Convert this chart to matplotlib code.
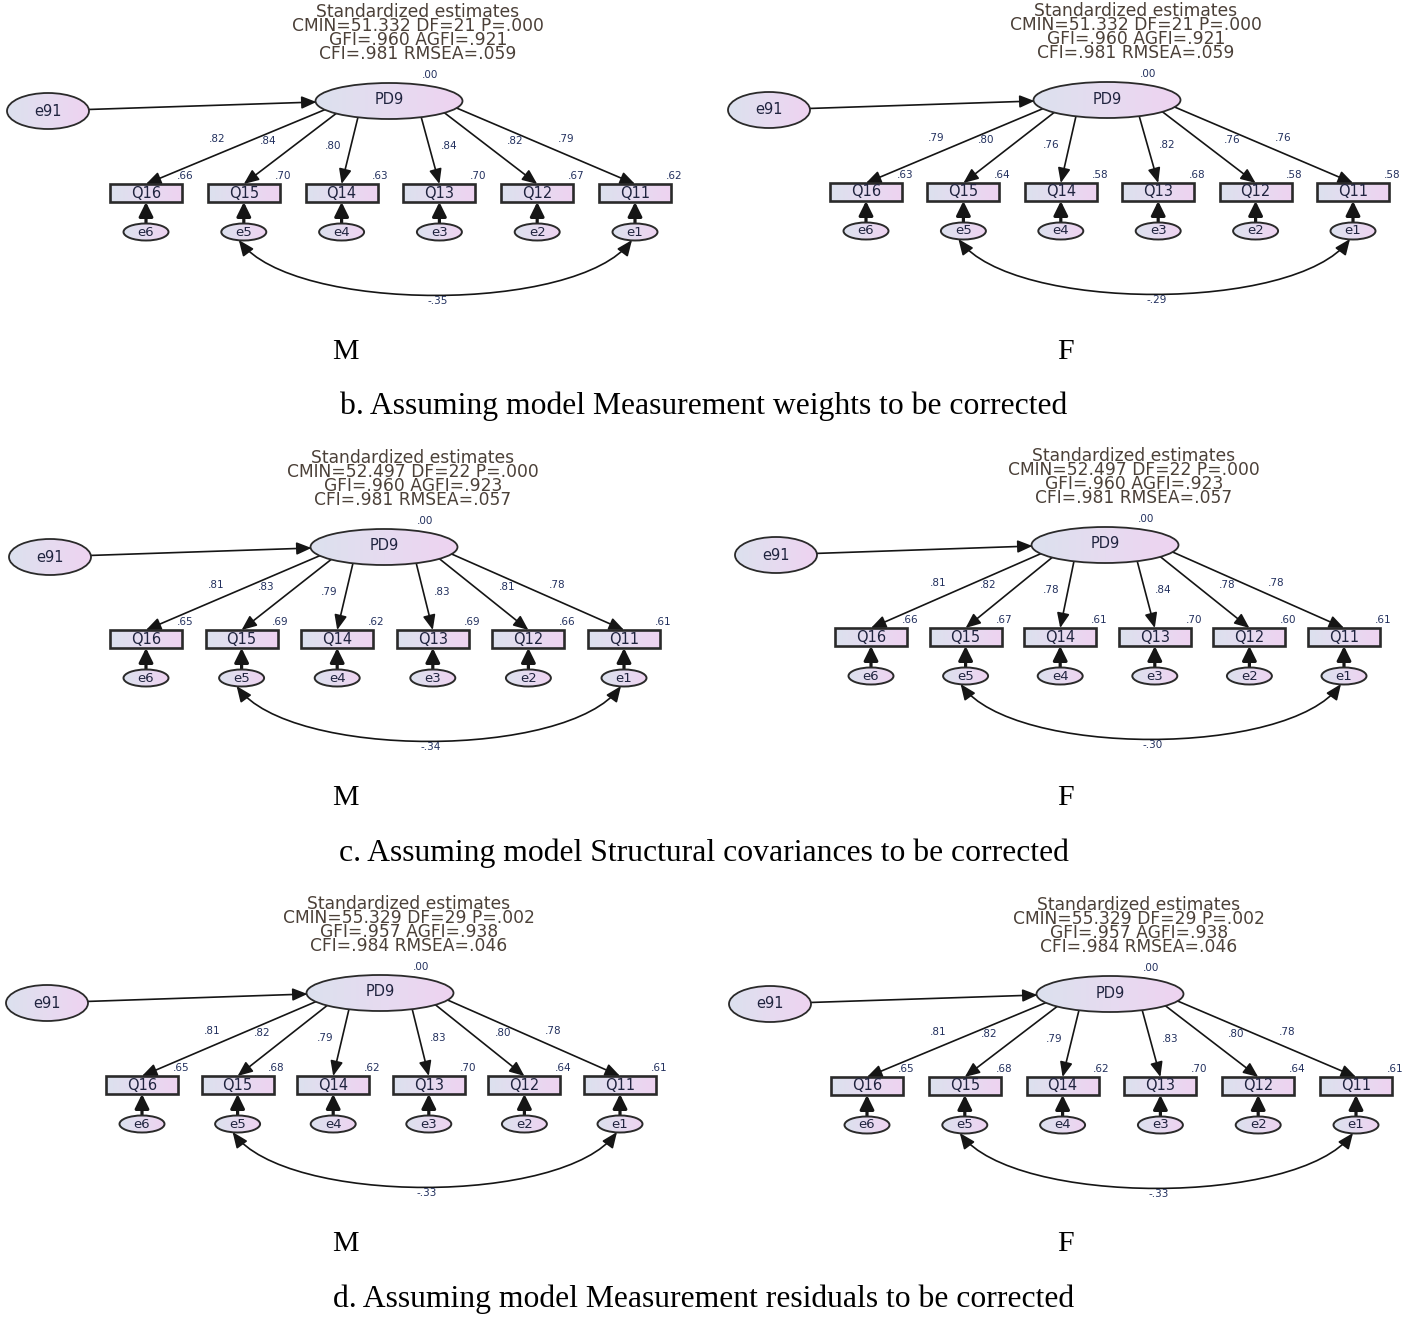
import numpy as np
import matplotlib
matplotlib.use("Agg")
import matplotlib.pyplot as plt
from matplotlib.patches import Ellipse, Rectangle, FancyArrowPatch
from matplotlib.path import Path
from matplotlib.colors import LinearSegmentedColormap

# ---------------- data ----------------
indicators = ["Q16", "Q15", "Q14", "Q13", "Q12", "Q11"]
errors = ["e6", "e5", "e4", "e3", "e2", "e1"]
latent = "PD9"
disturbance = "e91"
latent_r2 = 0.00
groups = ["M", "F"]
panel_ids = ["b", "c", "d"]
captions = ["b. Assuming model Measurement weights to be corrected",
            "c. Assuming model Structural covariances to be corrected",
            "d. Assuming model Measurement residuals to be corrected"]

cmin = ["51.332", "52.497", "55.329"]
df_vals = ["21", "22", "29"]
p_vals = [".000", ".000", ".002"]
gfi = [".960", ".960", ".957"]
agfi = [".921", ".923", ".938"]
cfi = [".981", ".981", ".984"]
rmsea = [".059", ".057", ".046"]

loadings_b_M = [0.82, 0.84, 0.80, 0.84, 0.82, 0.79]
r2_b_M = [0.66, 0.70, 0.63, 0.70, 0.67, 0.62]
cov_b_M = -0.35
loadings_b_F = [0.79, 0.80, 0.76, 0.82, 0.76, 0.76]
r2_b_F = [0.63, 0.64, 0.58, 0.68, 0.58, 0.58]
cov_b_F = -0.29

loadings_c_M = [0.81, 0.83, 0.79, 0.83, 0.81, 0.78]
r2_c_M = [0.65, 0.69, 0.62, 0.69, 0.66, 0.61]
cov_c_M = -0.34
loadings_c_F = [0.81, 0.82, 0.78, 0.84, 0.78, 0.78]
r2_c_F = [0.66, 0.67, 0.61, 0.70, 0.60, 0.61]
cov_c_F = -0.30

loadings_d_M = [0.81, 0.82, 0.79, 0.83, 0.80, 0.78]
r2_d_M = [0.65, 0.68, 0.62, 0.70, 0.64, 0.61]
cov_d_M = -0.33
loadings_d_F = [0.81, 0.82, 0.79, 0.83, 0.80, 0.78]
r2_d_F = [0.65, 0.68, 0.62, 0.70, 0.64, 0.61]
cov_d_F = -0.33

estimates = {
    ("b", "M"): (loadings_b_M, r2_b_M, cov_b_M),
    ("b", "F"): (loadings_b_F, r2_b_F, cov_b_F),
    ("c", "M"): (loadings_c_M, r2_c_M, cov_c_M),
    ("c", "F"): (loadings_c_F, r2_c_F, cov_c_F),
    ("d", "M"): (loadings_d_M, r2_d_M, cov_d_M),
    ("d", "F"): (loadings_d_F, r2_d_F, cov_d_F),
}

# ---------------- layout (pixel space) ----------------
geo = {
    ("b", "M"): dict(pd9=(389, 101), e91x=48, x0=146, dx=97.8),
    ("b", "F"): dict(pd9=(1107, 100), e91x=769, x0=866, dx=97.4),
    ("c", "M"): dict(pd9=(384, 547), e91x=50, x0=146, dx=95.6),
    ("c", "F"): dict(pd9=(1105, 545), e91x=776, x0=871, dx=94.6),
    ("d", "M"): dict(pd9=(380, 993), e91x=47, x0=142, dx=95.6),
    ("d", "F"): dict(pd9=(1110, 994), e91x=770, x0=867, dx=97.8),
}
group_label_x = {"M": 345, "F": 1065}
group_label_y = [352, 798, 1244]
caption_y = [406, 853, 1299]
start_angles = [151, 136, 115, 64, 41, 23]   # where loading arrows leave PD9
label_off = [(-172, 38), (-121, 40), (-56, 45), (60, 45), (126, 40), (177, 38)]

W, H = 1414, 1317
fig = plt.figure(figsize=(W / 100, H / 100), dpi=100)
ax = fig.add_axes([0, 0, 1, 1])
ax.set_xlim(0, W)
ax.set_ylim(H, 0)
ax.axis("off")

grad_cmap = LinearSegmentedColormap.from_list("amos", ["#dce1ee", "#e6dbf0", "#eed3f1"])
grad_img = np.tile(np.linspace(0, 1, 64), (8, 1))

TITLE_C = "#4b4038"
NUM_C = "#22305e"
NODE_C = "#20243f"
LINE_C = "#151515"
EDGE_C = "#2a2a2a"


def fmt(v):
    s = f"{abs(v):.2f}"[1:]
    return ("-" if v < 0 else "") + s


def shaded(patch, z=3):
    ax.add_patch(patch)
    if isinstance(patch, Ellipse):
        cx, cy = patch.center
        x0, x1 = cx - patch.width / 2, cx + patch.width / 2
        y0, y1 = cy - patch.height / 2, cy + patch.height / 2
    else:
        x0, y0 = patch.get_xy()
        x1, y1 = x0 + patch.get_width(), y0 + patch.get_height()
    im = ax.imshow(grad_img, cmap=grad_cmap, extent=(x0, x1, y1, y0),
                   aspect="auto", interpolation="bilinear", zorder=z - 0.5)
    im.set_clip_path(patch)


def ell_pt(cx, cy, a, b, tx, ty):
    dx, dy = tx - cx, ty - cy
    t = 1.0 / np.sqrt((dx / a) ** 2 + (dy / b) ** 2)
    return cx + t * dx, cy + t * dy


def arrow(p0, p1, lw=1.2, hl=0.9, hw=0.38, ms=10):
    ax.add_patch(FancyArrowPatch(p0, p1,
                                 arrowstyle=f"-|>,head_length={hl},head_width={hw}",
                                 mutation_scale=ms, lw=lw, color=LINE_C,
                                 shrinkA=0, shrinkB=0, zorder=2))


for pi, pid in enumerate(panel_ids):
    for g in groups:
        G = geo[(pid, g)]
        lo, r2, cv = estimates[(pid, g)]
        px, py = G["pd9"]
        a, b = 73.5, 18
        bx = [G["x0"] + i * G["dx"] for i in range(6)]
        by = py + 92
        ey = py + 131
        bw, bh = 72, 18
        ew, eh = 45, 17

        # header
        ax.text(px + 29, py - 68,
                "Standardized estimates\n"
                f"CMIN={cmin[pi]} DF={df_vals[pi]} P={p_vals[pi]}\n"
                f"GFI={gfi[pi]} AGFI={agfi[pi]}\n"
                f"CFI={cfi[pi]} RMSEA={rmsea[pi]}",
                ha="center", va="center", multialignment="center",
                fontsize=12.3, linespacing=0.71, color=TITLE_C,
                family="DejaVu Sans")

        # latent
        shaded(Ellipse((px, py), 2 * a, 2 * b, facecolor="none",
                       edgecolor=EDGE_C, lw=1.3, zorder=3))
        ax.text(px, py - 1, latent, ha="center", va="center", fontsize=10.5,
                color=NODE_C, zorder=5)
        ax.text(px + 41, py - 26, fmt(latent_r2), ha="center", va="center",
                fontsize=7.5, color=NUM_C)

        # disturbance e91
        exc, eyc = G["e91x"], py + 10
        shaded(Ellipse((exc, eyc), 82, 36, facecolor="none",
                       edgecolor=EDGE_C, lw=1.3, zorder=3))
        ax.text(exc, eyc, disturbance, ha="center", va="center", fontsize=10.5,
                color=NODE_C, zorder=5)
        s = ell_pt(exc, eyc, 41, 18, px - a, py)
        arrow(s, (px - a + 1, py + 1))

        sx = G["dx"] / 97.8
        for i in range(6):
            # loading arrow
            tgt = (bx[i], by - bh / 2)
            th = np.deg2rad(start_angles[i])
            st = (px + a * np.cos(th), py + b * np.sin(th))
            arrow(st, tgt)
            ox, oy = label_off[i]
            ax.text(px + ox * sx, py + oy, fmt(lo[i]), ha="center", va="center",
                    fontsize=7.5, color=NUM_C)
            # indicator box
            shaded(Rectangle((bx[i] - bw / 2, by - bh / 2), bw, bh,
                             facecolor="none", edgecolor=EDGE_C, lw=1.9, zorder=3))
            ax.text(bx[i], by, indicators[i], ha="center", va="center",
                    fontsize=10.5, color=NODE_C, zorder=5)
            ax.text(bx[i] + 39, by - 17, fmt(r2[i]), ha="center", va="center",
                    fontsize=7.5, color=NUM_C)
            # error
            shaded(Ellipse((bx[i], ey), ew, eh, facecolor="none",
                           edgecolor=EDGE_C, lw=1.4, zorder=3))
            ax.text(bx[i], ey, errors[i], ha="center", va="center",
                    fontsize=9.5, color=NODE_C, zorder=5)
            arrow((bx[i], ey - eh / 2), (bx[i], by + bh / 2), lw=2.3,
                  hl=0.85, hw=0.42)

        # covariance e5 <-> e1
        P0 = (bx[1] - 5, ey + 8)
        P3 = (bx[5] - 3, ey + 8)
        d = P3[0] - P0[0]
        k = (ey + 63 - P0[1]) / 0.75
        path = Path([P0, (P0[0] + 0.14 * d, P0[1] + k),
                     (P3[0] - 0.14 * d, P3[1] + k), P3],
                    [Path.MOVETO, Path.CURVE4, Path.CURVE4, Path.CURVE4])
        ax.add_patch(FancyArrowPatch(path=path,
                                     arrowstyle="<|-|>,head_length=0.95,head_width=0.4",
                                     mutation_scale=10, lw=1.2, color=LINE_C,
                                     zorder=2))
        ax.text((P0[0] + P3[0]) / 2 + 2, ey + 69, fmt(cv), ha="center",
                va="center", fontsize=7.5, color=NUM_C)

        ax.text(group_label_x[g], group_label_y[pi], g, ha="center", va="center",
                fontsize=21.5, family="Liberation Serif", color="black")

    ax.text(W / 2 - 3, caption_y[pi], captions[pi], ha="center", va="center",
            fontsize=22.8, family="Liberation Serif", color="black")

ax.set_xlim(0, W)
ax.set_ylim(H, 0)
fig.savefig("out.png", dpi=100)
